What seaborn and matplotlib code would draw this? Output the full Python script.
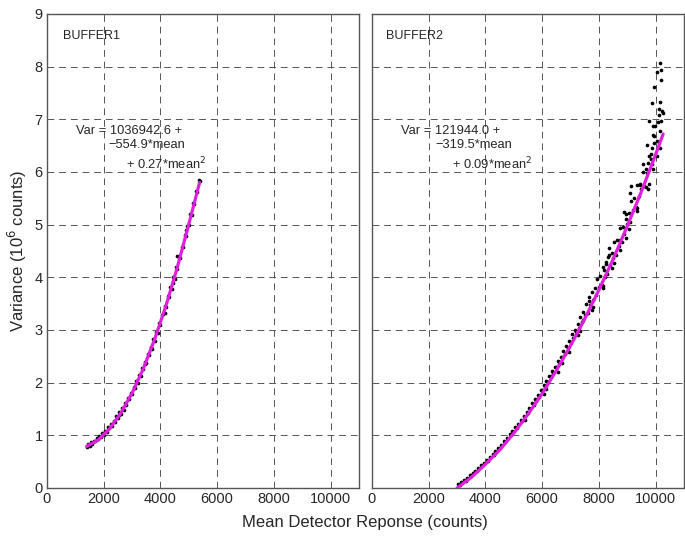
import numpy as np
import matplotlib
matplotlib.use("Agg")
import matplotlib.pyplot as plt
import seaborn as sns

# BUFFER1 measured points (mean counts, variance in 1e6 counts)
b1_mean = [1420, 1500, 1600, 1700, 1800, 1900, 2000, 2050, 2100, 2200, 2300, 2400,
           2500, 2550, 2600, 2700, 2800, 2900, 3000, 3100, 3200, 3300, 3400, 3450,
           3500, 3600, 3700, 3800, 3900, 4000, 4100, 4150, 4200, 4300, 4360, 4400,
           4450, 4500, 4590, 4600, 4700, 4800, 4885, 4900, 5000, 5100, 5200, 5300, 5380]
b1_var = [0.77, 0.80, 0.84, 0.89, 0.93, 0.96, 1.01, 1.06, 1.06, 1.13, 1.18, 1.25,
          1.32, 1.38, 1.40, 1.48, 1.58, 1.68, 1.78, 1.90, 2.00, 2.13, 2.25, 2.36,
          2.38, 2.52, 2.64, 2.80, 2.95, 3.10, 3.30, 3.32, 3.44, 3.62, 3.80, 3.78,
          3.90, 3.96, 4.40, 4.16, 4.36, 4.58, 4.90, 4.78, 5.00, 5.18, 5.40, 5.62, 5.82]
b1_band_mean = [1450, 1550, 1650, 1750, 1850, 1950, 2050, 2150, 2250, 2350, 2450,
                2550, 2650, 2750, 2850, 2950, 3050, 3150, 3250, 3350, 3450, 3550,
                3650, 3750, 3850, 3950, 4050, 4150, 4250, 4350, 4450, 4550, 4650,
                4750, 4850, 4950, 5050, 5150, 5250, 5350]
b1_band_var = [0.83, 0.87, 0.90, 0.94, 0.99, 1.04, 1.09, 1.15, 1.21, 1.28, 1.36,
               1.45, 1.52, 1.61, 1.71, 1.81, 1.92, 2.04, 2.15, 2.27, 2.40, 2.55,
               2.68, 2.83, 2.97, 3.14, 3.29, 3.46, 3.64, 3.82, 4.00, 4.20, 4.40,
               4.58, 4.80, 4.98, 5.20, 5.42, 5.64, 5.85]

# BUFFER1 fit curve
b1_fit_mean = [1400, 1800, 2200, 2600, 3000, 3400, 3800, 4200, 4600, 5000, 5380]
b1_fit_var = [0.79, 0.91, 1.12, 1.42, 1.80, 2.27, 2.83, 3.47, 4.20, 5.01, 5.80]

# BUFFER2 measured points
b2_mean = [3100, 3300, 3500, 3700, 3900, 4100, 4300, 4500, 4700, 4900, 5100, 5300,
           5400, 5500, 5700, 5800, 5900, 6000, 6050, 6100, 6200, 6300, 6400, 6500,
           6600, 6700, 6700, 6800, 6900, 7000, 7100, 7200, 7250, 7300, 7400, 7423,
           7500, 7600, 7657, 7700, 7800, 7800, 7900, 8000, 8100, 8150, 8188, 8200,
           8248, 8300, 8307, 8365, 8400, 8450, 8500, 8600, 8700, 8750, 8755, 8800,
           8897, 8900, 8950, 9000, 9050, 9100, 9100, 9133, 9200, 9300, 9350, 9400,
           9464, 9500, 9546, 9600, 9650, 9688, 9700, 9723, 9723, 9770, 9829, 9865,
           9865, 9876, 9900, 9900, 9924, 9958, 9960, 9994, 10053, 10065, 10077,
           10112, 10136, 10159, 10171, 10171, 10183, 10183, 10195, 10218, 10253]
b2_var = [0.06, 0.14, 0.24, 0.33, 0.43, 0.52, 0.63, 0.76, 0.87, 1.00, 1.13, 1.28,
          1.30, 1.43, 1.58, 1.66, 1.73, 1.84, 1.78, 1.92, 2.01, 2.12, 2.18, 2.30,
          2.36, 2.48, 2.38, 2.55, 2.66, 2.78, 2.84, 2.97, 2.90, 3.03, 3.16, 3.19,
          3.28, 3.33, 3.63, 3.47, 3.56, 3.43, 3.66, 3.82, 3.86, 3.80, 4.14, 4.01,
          4.30, 4.07, 4.39, 4.56, 4.24, 4.18, 4.36, 4.42, 4.60, 4.52, 4.71, 4.68,
          5.24, 4.83, 5.10, 5.02, 4.92, 5.05, 5.60, 5.73, 5.27, 5.33, 5.32, 5.55,
          5.76, 5.68, 6.15, 5.74, 5.72, 6.51, 5.98, 5.67, 6.18, 6.96, 6.24, 6.46,
          7.31, 6.15, 6.87, 6.05, 6.70, 7.62, 6.68, 6.88, 6.58, 7.89, 6.95,
          7.19, 7.09, 8.07, 6.77, 7.32, 6.97, 7.75, 7.93, 7.15, 7.12]
b2_band_mean = [3050, 3150, 3250, 3350, 3450, 3550, 3650, 3750, 3850, 3950, 4050,
                4150, 4250, 4350, 4450, 4550, 4650, 4750, 4850, 4950, 5050, 5150,
                5250, 5350, 5450, 5550, 5650, 5750, 5850, 5950, 6050, 6150, 6250,
                6350, 6450, 6550, 6650, 6750, 6850, 6950, 7050, 7150, 7250, 7350,
                7450, 7550, 7650, 7750, 7850, 7950, 8050, 8150, 8250, 8350, 8450,
                8550, 8650, 8750, 8850, 8950, 9050, 9150, 9250, 9350, 9450, 9550,
                9650, 9750, 9850, 9950,
                6150, 6550, 6950, 7350, 7750, 8150, 8550, 8950, 9350, 9750, 10050, 10150]
b2_band_var = [0.07, 0.11, 0.15, 0.19, 0.24, 0.28, 0.33, 0.38, 0.43, 0.48, 0.53,
               0.59, 0.65, 0.70, 0.76, 0.82, 0.89, 0.95, 1.02, 1.08, 1.15, 1.22,
               1.30, 1.37, 1.45, 1.52, 1.61, 1.69, 1.77, 1.86, 1.95, 2.03, 2.12,
               2.22, 2.30, 2.41, 2.49, 2.60, 2.70, 2.80, 2.92, 3.00, 3.12, 3.25,
               3.34, 3.50, 3.55, 3.72, 3.79, 3.96, 4.02, 4.20, 4.25, 4.43, 4.47,
               4.68, 4.70, 4.93, 4.95, 5.20, 5.22, 5.45, 5.50, 5.75, 5.78, 6.00,
               6.05, 6.30, 6.35, 6.55,
               1.87, 2.20, 2.58, 2.98, 3.38, 3.83, 4.28, 4.75, 5.25, 5.78, 6.30, 6.45]

# BUFFER2 fit curve
b2_fit_mean = [3000, 3500, 4000, 4500, 5000, 5500, 6000, 6500, 7000, 7500, 8000,
               8500, 9000, 9500, 10000, 10265]
b2_fit_var = [0.00, 0.20, 0.45, 0.72, 1.04, 1.40, 1.79, 2.23, 2.70, 3.21, 3.76,
              4.34, 4.97, 5.63, 6.33, 6.72]

x_ticks = [0, 2000, 4000, 6000, 8000, 10000]
y_ticks = [0, 1, 2, 3, 4, 5, 6, 7, 8, 9]

sns.set_style("white")
plt.rcParams['font.family'] = ['Liberation Sans', 'DejaVu Sans']

fig = plt.figure(figsize=(6.85, 5.36), dpi=100)
ax1 = fig.add_axes([0.0686, 0.0896, 0.4555, 0.8843])
ax2 = fig.add_axes([0.543, 0.0896, 0.4555, 0.8843])

panels = [
    (ax1, b1_mean + b1_band_mean, b1_var + b1_band_var, b1_fit_mean, b1_fit_var,
     "BUFFER1", ["Var = 1036942.6 +", "\u2212554.9*mean", "+ 0.27*mean$^2$"],
     [(1030, 6.78), (2170, 6.51), (2800, 6.16)], 560),
    (ax2, b2_mean + b2_band_mean, b2_var + b2_band_var, b2_fit_mean, b2_fit_var,
     "BUFFER2", ["Var = 121944.0 +", "\u2212319.5*mean", "+ 0.09*mean$^2$"],
     [(1015, 6.78), (2250, 6.51), (2820, 6.16)], 500),
]

for ax, xm, yv, fx, fy, name, lines, pos, nx in panels:
    ax.grid(True, color="#555555", linestyle=(0, (7, 5)), linewidth=0.7)
    ax.set_axisbelow(True)
    sns.scatterplot(x=xm, y=yv, ax=ax, color="black", s=7, linewidth=0, zorder=3)
    sns.lineplot(x=fx, y=fy, ax=ax, color="#e01ee0", linewidth=2.3,
                 sort=False, estimator=None, zorder=4)
    ax.set_xlim(0, 11000)
    ax.set_ylim(0, 9)
    ax.set_xticks(x_ticks)
    ax.set_yticks(y_ticks)
    ax.tick_params(direction="in", length=4, labelsize=10.5, color="#555555", pad=3)
    for s in ax.spines.values():
        s.set_color("#555555")
        s.set_linewidth(1.0)
    ax.text(nx, 8.58, name, fontsize=9, va="center", ha="left")
    for t, (tx, ty) in zip(lines, pos):
        ax.text(tx, ty, t, fontsize=9.3, va="center", ha="left")
    ax.set_xlabel("")
    ax.set_ylabel("")

ax2.tick_params(labelleft=False)
ax1.set_ylabel("Variance (10$^6$ counts)", fontsize=12, labelpad=4)
fig.text(0.533, 0.026, "Mean Detector Reponse (counts)", fontsize=12, ha="center", va="center")

fig.savefig("out.png", dpi=100)
